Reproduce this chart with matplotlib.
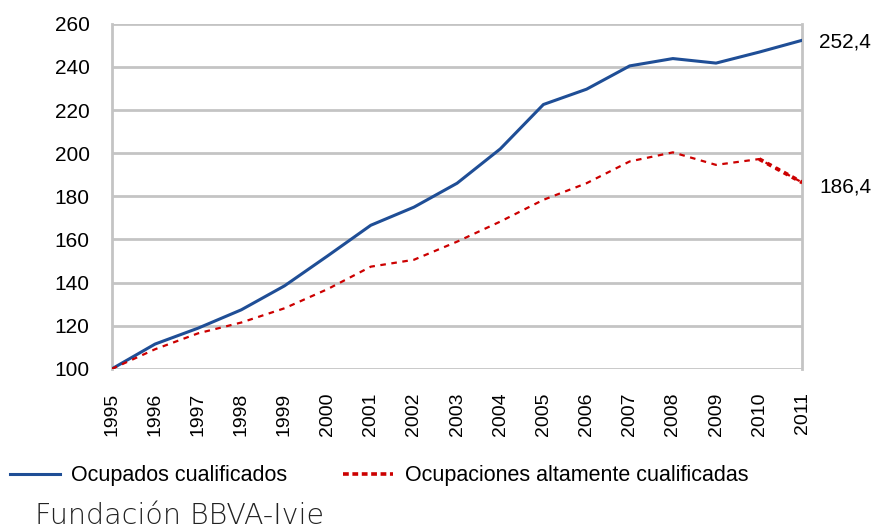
import numpy as np
import matplotlib.pyplot as plt
from matplotlib.lines import Line2D

plt.rcParams.update({'font.size': 15, 'font.family': ['Liberation Sans', 'DejaVu Sans']})

years = np.arange(1995, 2012)
ocupados = [100, 111.5, 118.9, 127.4, 138.5, 152.4, 166.6, 175.0, 186.1,
            202.0, 222.6, 229.7, 240.5, 243.9, 241.8, 246.9, 252.4]
ocupaciones = [100, 109.1, 116.5, 121.5, 128.1, 137.0, 147.4, 150.6, 159.0,
               168.3, 178.4, 186.1, 196.2, 200.4, 194.6, 197.3, 186.4]
yticks = np.arange(100, 261, 20)

fig = plt.figure(figsize=(8.74, 5.30), dpi=100)
ax = fig.add_axes([0.128, 0.304, 0.790, 0.651])

grid_c = '#c4c4c4'
for t in yticks:
    ax.axhline(t, color=grid_c, lw=2, zorder=0)

blue = '#1f4e96'
red = '#cc0000'
ax.plot(years, ocupados, color=blue, lw=2.2, zorder=3)
ax.plot(years, ocupaciones, color=red, lw=1.6, ls=(0, (2.5, 2.5)), zorder=3)
# last segment drawn thicker, as in the original
ax.plot(years[-2:], ocupaciones[-2:], color=red, lw=2.8, ls=(0, (1.2, 1.2)), zorder=3)

ax.set_xlim(years[0], years[-1])
ax.set_ylim(100, 260)
ax.set_yticks(yticks)
ax.set_xticks(years)
ax.set_xticklabels([str(y) for y in years], rotation=90, fontsize=14)
ax.tick_params(axis='y', length=0, pad=16)
ax.tick_params(axis='x', length=0, pad=17)

for side in ['top', 'bottom']:
    ax.spines[side].set_visible(False)
for side in ['left', 'right']:
    ax.spines[side].set_color(grid_c)
    ax.spines[side].set_linewidth(2)

ax.text(years[-1] + 0.39, ocupados[-1] - 1, '252,4',
        va='center', ha='left', clip_on=False)
ax.text(years[-1] + 0.39, ocupaciones[-1] - 2, '186,4',
        va='center', ha='left', clip_on=False)

handles = [Line2D([], [], color=blue, lw=2.2),
           Line2D([], [], color=red, lw=2.6, ls=(0, (1.6, 1.0)))]
fig.legend(handles, ['Ocupados cualificados', 'Ocupaciones altamente cualificadas'],
           loc='center left', bbox_to_anchor=(10 / 874, 0.102), ncol=2, frameon=False,
           fontsize=15.5, handlelength=2.3, columnspacing=2.6, handletextpad=0.55,
           borderaxespad=0, borderpad=0)

fig.text(0.04, 0.012, 'Fundación BBVA-Ivie', fontsize=20.5, color='#222222',
         family=['DejaVu Sans'], weight='light', va='baseline')

fig.savefig('out.png', dpi=100)
